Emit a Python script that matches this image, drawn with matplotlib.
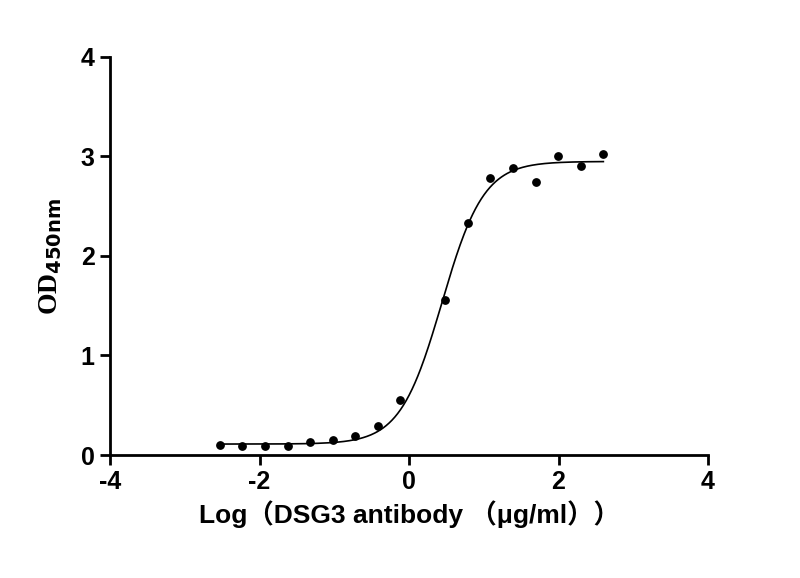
import numpy as np
import matplotlib
matplotlib.use("Agg")
import matplotlib.pyplot as plt
plt.rcParams["axes.unicode_minus"] = False

log_conc = [-2.53, -2.23, -1.93, -1.62, -1.32, -1.02, -0.72, -0.41, -0.12,
            0.48, 0.79, 1.08, 1.39, 1.70, 1.99, 2.30, 2.60]
od450 = [0.10, 0.09, 0.09, 0.09, 0.13, 0.15, 0.19, 0.29, 0.55,
         1.56, 2.33, 2.78, 2.88, 2.74, 3.00, 2.90, 3.03]
# 4PL fit parameters
bottom, top, logec50, hill = 0.11, 2.95, 0.44, 1.55

fig = plt.figure(figsize=(8, 5.78), dpi=100)
ax = fig.add_axes([0.1375, 0.2128, 0.7475, 0.6886])
xs = np.linspace(min(log_conc), max(log_conc), 400)
ys = bottom + (top - bottom) / (1 + 10 ** ((logec50 - xs) * hill))
ax.plot(xs, ys, color="black", lw=1.2)
ax.scatter(log_conc, od450, s=28, color="black", zorder=3)

ax.set_xlim(-4, 4)
ax.set_ylim(0, 4)
ax.set_xticks([-4, -2, 0, 2, 4])
ax.set_yticks([0, 1, 2, 3, 4])
for s in ["top", "right"]:
    ax.spines[s].set_visible(False)
for s in ["left", "bottom"]:
    ax.spines[s].set_linewidth(2)
ax.tick_params(width=2, length=7, direction="out", labelsize=18, pad=4)
for lab in ax.get_xticklabels() + ax.get_yticklabels():
    lab.set_fontfamily("Liberation Sans")
    lab.set_fontweight("bold")
ax.set_xlabel("Log（DSG3 antibody （μg/ml））", fontsize=19, fontweight="bold",
              family=["Liberation Sans", "Noto Sans CJK SC"], labelpad=4)
plt.rcParams["mathtext.fontset"] = "custom"
plt.rcParams["mathtext.bf"] = "Liberation Serif:bold"
plt.rcParams["mathtext.rm"] = "Liberation Serif:bold"
ax.set_ylabel(r"OD$_{\mathbf{450nm}}$", fontsize=20, fontweight="bold",
              family="Liberation Serif", labelpad=12)
fig.savefig("out.png", dpi=100)
